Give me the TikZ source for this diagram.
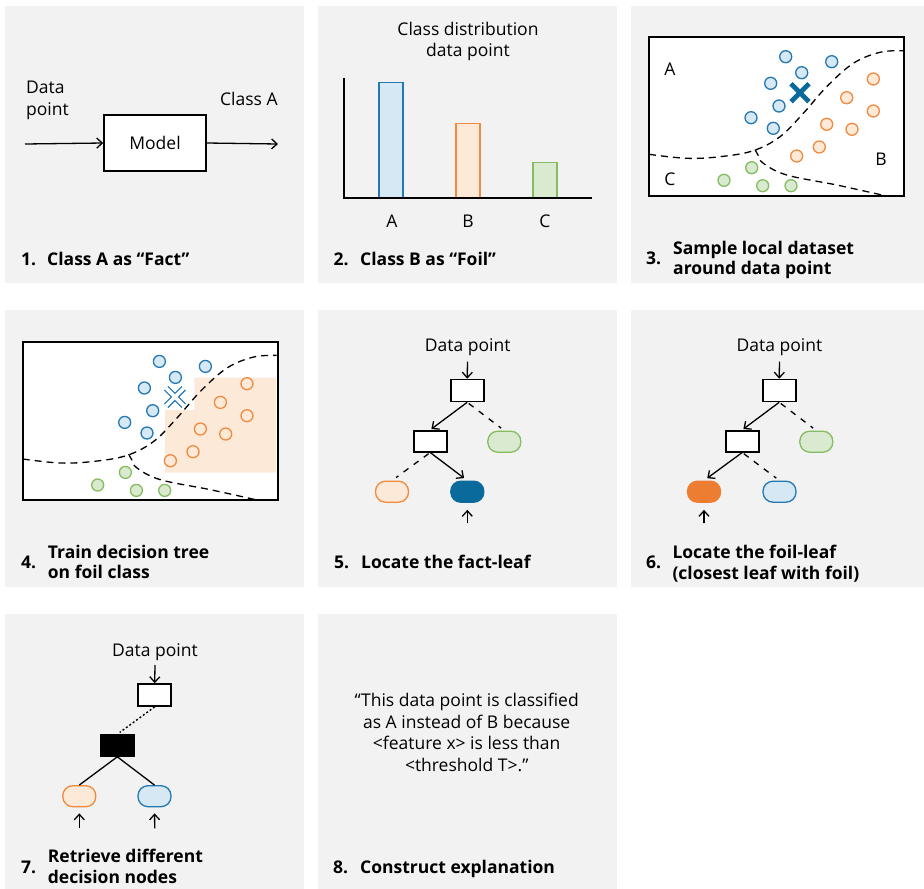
\documentclass[tikz,border=0pt]{standalone}
\usepackage{fontspec}
\setmainfont{Open Sans}
\usetikzlibrary{arrows.meta}
\definecolor{panelgray}{HTML}{F2F2F2}
\definecolor{blueS}{HTML}{2479B2}
\definecolor{blueF}{HTML}{D6E8F4}
\definecolor{darkblue}{HTML}{0A6A9C}
\definecolor{orangeS}{HTML}{F08A3E}
\definecolor{orangeF}{HTML}{FDE9D8}
\definecolor{orangeD}{HTML}{ED7D31}
\definecolor{greenS}{HTML}{85BC5F}
\definecolor{greenF}{HTML}{D9EAD0}
\tikzset{
  panel/.style={fill=panelgray, draw=none},
  txt/.style={font=\fontsize{17.5}{21}\selectfont, inner sep=0pt, anchor=base},
  txtw/.style={font=\fontsize{17.5}{21}\selectfont, inner sep=0pt, anchor=base west},
  ttl/.style={font=\fontsize{17.5}{21}\selectfont\bfseries, inner sep=0pt, anchor=base west},
  arr/.style={-{Straight Barb[length=5.5pt,width=10pt]}, line width=1.3pt},
  tbox/.style={draw, fill=white, line width=1.6pt, minimum width=33pt, minimum height=22pt, inner sep=0pt},
  leaf/.style={rounded corners=10pt, line width=1.3pt, minimum width=33pt, minimum height=21pt, inner sep=0pt},
  leafA/.style={leaf, draw=blueS, fill=blueF},
  leafB/.style={leaf, draw=orangeS, fill=orangeF},
  leafC/.style={leaf, draw=greenS, fill=greenF},
  tdash/.style={dash pattern=on 6pt off 6.5pt, line width=1.3pt},
  cdash/.style={dash pattern=on 7pt off 5pt, line width=1.3pt},
  ptA/.style={draw=blueS, fill=blueF, line width=1.3pt},
  ptB/.style={draw=orangeS, fill=orangeF, line width=1.3pt},
  ptC/.style={draw=greenS, fill=greenF, line width=1.3pt},
  frame/.style={draw, line width=1.6pt}
}
\newcommand{\myscatter}{%
  \draw[cdash] plot[smooth, tension=0.6] coordinates {(0,117.3) (37.7,121.3) (71,119.7) (104.3,113.7) (131,99.7) (154.3,76.3) (177.7,49.7) (204.3,26.3) (231,15.3) (254,13.7)};
  \draw[cdash] plot[smooth, tension=0.6] coordinates {(106,112.5) (109,118) (114.3,126.3) (137.7,138) (187.7,148) (234.3,158.3)};
  \foreach \x/\y in {136.7/19.7, 182.7/24.7, 152.7/35.7, 121.7/46.3, 130/69, 102/80.7, 124.3/91.3}
    \draw[ptA] (\x,\y) circle (6);
  \foreach \x/\y in {224.3/42, 197.7/60.7, 224.3/74, 177.7/87.3, 203/92.3, 170.3/110, 147.7/119}
    \draw[ptB] (\x,\y) circle (6);
  \foreach \x/\y in {75/143.3, 102.7/130.7, 113.7/148.7, 142/148.7}
    \draw[ptC] (\x,\y) circle (6);
}
\begin{document}
\begin{tikzpicture}[x=1pt,y=-1pt]
\useasboundingbox (0,0) rectangle (924,889);
\fill[white] (0,0) rectangle (924,889);
% panels
\fill[panel] (5,6) rectangle (304,283);
\fill[panel] (318,6) rectangle (617,283);
\fill[panel] (631,6) rectangle (924,283);
\fill[panel] (5,310) rectangle (304,587);
\fill[panel] (318,310) rectangle (617,587);
\fill[panel] (631,310) rectangle (924,587);
\fill[panel] (5,614) rectangle (304,889);
\fill[panel] (318,614) rectangle (617,889);

% ---------- Panel 1
\node[txtw] (p1d1) at (26,93.3) {Data};
\node[txtw] (p1d2) at (26,115) {point};
\node[draw, fill=white, line width=1.6pt, minimum width=102pt, minimum height=56pt, inner sep=0pt, font=\fontsize{17.5}{21}\selectfont] (model) at (155,143) {Model};
\coordinate (p1in) at (25,144);
\coordinate (p1out) at (278,144);
\draw[arr] (p1in) -- (model.west);
\draw[arr] (model.east) -- (p1out);
\node[txtw] (p1cls) at (220,105) {Class A};
\node[ttl] (t1n) at (21,265) {1.};
\node[ttl] (t1) at (47,265) {Class A as “Fact”};

% ---------- Panel 2
\node[txt] (p2h1) at (468,35) {Class distribution};
\node[txt] (p2h2) at (468,56.7) {data point};
\coordinate (axtop) at (344,78);
\coordinate (ax0) at (344,198);
\coordinate (axr) at (592,198);
\node[draw=blueS, fill=blueF, line width=1.4pt, minimum width=24pt, minimum height=115pt, inner sep=0pt, anchor=south] (barA) at (391,198) {};
\node[draw=orangeS, fill=orangeF, line width=1.4pt, minimum width=24pt, minimum height=74pt, inner sep=0pt, anchor=south] (barB) at (468,198) {};
\node[draw=greenS, fill=greenF, line width=1.4pt, minimum width=24pt, minimum height=35pt, inner sep=0pt, anchor=south] (barC) at (545,198) {};
\draw[line width=1.4pt] (axtop) -- (ax0) -- (axr);
\node[txt] (lA) at (392,227.7) {A};
\node[txt] (lB) at (468,227.7) {B};
\node[txt] (lC) at (545,227.7) {C};
\node[ttl] (t2n) at (333.5,265) {2.};
\node[ttl] (t2) at (360,265) {Class B as “Foil”};

% ---------- Panel 3
\fill[white] (649,37) rectangle (904,196);
\begin{scope}[shift={(649,37)}]
  \myscatter
  \draw[darkblue, line width=4.8pt] (142,46.7) -- (160,64.7) (142,64.7) -- (160,46.7);
\end{scope}
\draw[frame] (649,37) rectangle (904,196);
\node[txt] (r3A) at (670,75) {A};
\node[txt] (r3B) at (881,165) {B};
\node[txt] (r3C) at (670,185.7) {C};
\node[ttl] (t3n) at (646,264) {3.};
\node[ttl] (t3a) at (673,254) {Sample local dataset};
\node[ttl] (t3b) at (673,274.5) {around data point};

% ---------- Panel 4
\fill[white] (22.7,341.7) rectangle (277.7,500);
\begin{scope}[shift={(22.7,341.7)}]
  \fill[orangeF] (171.6,36) -- (253.5,36) -- (253.5,131) -- (142.3,131) -- (142.3,68.3) -- (171.6,68.3) -- cycle;
  \myscatter
  \draw[blueS, line width=1.3pt, double=white, double distance=3.6pt] (143.5,46.5) -- (161,64) (143.5,64) -- (161,46.5);
\end{scope}
\draw[frame] (22.7,341.7) rectangle (277.7,500);
\node[ttl] (t4n) at (21,568.3) {4.};
\node[ttl] (t4a) at (47.7,558.3) {Train decision tree};
\node[ttl] (t4b) at (47.7,578.5) {on foil class};

% ---------- Panel 5
\node[txt] (dp5) at (467.7,351.7) {Data point};
\coordinate (in5) at (467.5,361.7);
\node[tbox] (root5) at (467.2,390.5) {};
\node[tbox, minimum height=21pt] (n5) at (430.2,441.2) {};
\node[leafC] (g5) at (504.3,441.7) {};
\node[leafB] (o5) at (392,491.7) {};
\node[leaf, draw=darkblue, fill=darkblue] (b5) at (467.3,491.7) {};
\coordinate (up5) at (467.3,523.3);
\draw[arr] (in5) -- (root5.north);
\draw[arr, shorten >=1.5pt] (root5.south) -- (n5.north);
\draw[tdash, shorten <=2pt, shorten >=4pt] (root5.south) -- (g5.north);
\draw[tdash, shorten <=2pt, shorten >=5pt] (n5.south) -- (o5.north);
\draw[arr, shorten >=4pt] (n5.south) -- (b5.north);
\draw[arr, shorten >=7pt] (up5) -- (b5.south);
\node[ttl] (t5n) at (334,568.3) {5.};
\node[ttl] (t5) at (361,568.3) {Locate the fact-leaf};

% ---------- Panel 6
\node[txt] (dp6) at (779.5,351.7) {Data point};
\coordinate (in6) at (779.5,361.7);
\node[tbox] (root6) at (779.2,390.5) {};
\node[tbox, minimum height=21pt] (n6) at (742.2,441.2) {};
\node[leafC] (g6) at (816.3,441.7) {};
\node[leaf, draw=orangeD, fill=orangeD] (o6) at (704,491.7) {};
\node[leafA] (b6) at (779.5,491.7) {};
\coordinate (up6) at (704,523.3);
\draw[arr] (in6) -- (root6.north);
\draw[arr, shorten >=1.5pt] (root6.south) -- (n6.north);
\draw[tdash, shorten <=2pt, shorten >=4pt] (root6.south) -- (g6.north);
\draw[arr, shorten >=4pt] (n6.south) -- (o6.north);
\draw[tdash, shorten <=2pt, shorten >=4pt] (n6.south) -- (b6.north);
\draw[arr, shorten >=7pt] (up6) -- (o6.south);
\node[ttl] (t6n) at (646,568.3) {6.};
\node[ttl] (t6a) at (672.3,558.3) {Locate the foil-leaf};
\node[ttl] (t6b) at (672.3,579) {(closest leaf with foil)};

% ---------- Panel 7
\node[txt] (dp7) at (155,656.7) {Data point};
\coordinate (in7) at (155,665);
\node[tbox] (root7) at (154.7,695) {};
\node[tbox, minimum height=21pt, fill=black] (k7) at (117.3,745.5) {};
\node[leafB] (o7) at (79.3,796.2) {};
\node[leafA] (b7) at (154.5,796.2) {};
\coordinate (up7o) at (79.3,828.3);
\coordinate (up7b) at (154.7,828.3);
\draw[arr] (in7) -- (root7.north);
\draw[dash pattern=on 2pt off 2.2pt, line width=1.4pt, shorten >=3pt] (root7.south) -- (k7.north);
\draw[line width=1.3pt] (k7.south) -- (o7.north);
\draw[line width=1.3pt] (k7.south) -- (b7.north);
\draw[arr, shorten >=6pt] (up7o) -- (o7.south);
\draw[arr, shorten >=6pt] (up7b) -- (b7.south);
\node[ttl] (t7n) at (21,873.3) {7.};
\node[ttl] (t7a) at (47.7,862.3) {Retrieve different};
\node[ttl] (t7b) at (47.7,883.3) {decision nodes};

% ---------- Panel 8
\node[txt] (e1) at (466.7,706.7) {“This data point is classified};
\node[txt] (e2) at (466.7,728.3) {as A instead of B because};
\node[txt] (e3) at (466.7,749.3) {<feature x> is less than};
\node[txt] (e4) at (466.7,771.7) {<threshold T>.”};
\node[ttl] (t8n) at (333,873.3) {8.};
\node[ttl] (t8) at (360,873.3) {Construct explanation};
\end{tikzpicture}
\end{document}
